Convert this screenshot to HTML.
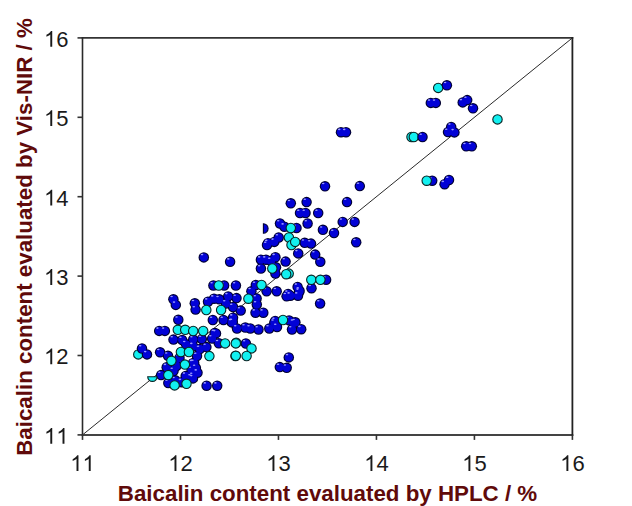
<!DOCTYPE html>
<html><head><meta charset="utf-8"><style>
html,body{margin:0;padding:0;background:#fff;width:632px;height:506px;overflow:hidden}
svg{display:block}
text{font-family:"Liberation Sans",sans-serif}
</style></head><body>
<svg width="632" height="506" viewBox="0 0 632 506">
<rect width="632" height="506" fill="#fff"/>
<line x1="82.5" y1="434.9" x2="572.4" y2="37.9" stroke="#111" stroke-width="0.9"/>
<circle cx="438.2" cy="87.9" r="4.7" fill="#12f0f0" stroke="#082424" stroke-width="1.1"/>
<circle cx="411.5" cy="137" r="4.7" fill="#12f0f0" stroke="#082424" stroke-width="1.1"/>
<circle cx="413.8" cy="137" r="4.7" fill="#12f0f0" stroke="#082424" stroke-width="1.1"/>
<circle cx="138.3" cy="354.4" r="4.7" fill="#12f0f0" stroke="#082424" stroke-width="1.1"/>
<path d="M263.4,223.8 A4.7,4.7 0 0 1 263.4,233.2 Z" fill="#0202d6" stroke="#000032" stroke-width="1.1"/>
<g fill="#000032"><circle cx="446.9" cy="85.3" r="5.25"/><circle cx="430.8" cy="102.9" r="5.25"/><circle cx="435.8" cy="102.9" r="5.25"/><circle cx="462.7" cy="102.4" r="5.25"/><circle cx="467.2" cy="100.1" r="5.25"/><circle cx="473" cy="108.3" r="5.25"/><circle cx="451.2" cy="126.9" r="5.25"/><circle cx="448" cy="132.1" r="5.25"/><circle cx="454.4" cy="132.4" r="5.25"/><circle cx="422.5" cy="137" r="5.25"/><circle cx="466.2" cy="146.3" r="5.25"/><circle cx="471.8" cy="146.3" r="5.25"/><circle cx="432.2" cy="180.7" r="5.25"/><circle cx="444.6" cy="184.2" r="5.25"/><circle cx="449" cy="180" r="5.25"/><circle cx="341" cy="132.2" r="5.25"/><circle cx="346" cy="132.2" r="5.25"/><circle cx="325" cy="186.3" r="5.25"/><circle cx="359.8" cy="186.1" r="5.25"/><circle cx="306.6" cy="202.1" r="5.25"/><circle cx="347" cy="202.1" r="5.25"/><circle cx="300" cy="213" r="5.25"/><circle cx="305.5" cy="213" r="5.25"/><circle cx="318.2" cy="213" r="5.25"/><circle cx="307.6" cy="223.5" r="5.25"/><circle cx="342.7" cy="221.9" r="5.25"/><circle cx="354.6" cy="221.9" r="5.25"/><circle cx="322.9" cy="229.8" r="5.25"/><circle cx="334" cy="233" r="5.25"/><circle cx="356.2" cy="242.3" r="5.25"/><circle cx="304.7" cy="242.8" r="5.25"/><circle cx="311" cy="243.6" r="5.25"/><circle cx="290.8" cy="203.3" r="5.25"/><circle cx="280" cy="223.5" r="5.25"/><circle cx="284.4" cy="226.7" r="5.25"/><circle cx="296.5" cy="228" r="5.25"/><circle cx="278.7" cy="237.5" r="5.25"/><circle cx="268" cy="243.2" r="5.25"/><circle cx="267" cy="245" r="5.25"/><circle cx="274.3" cy="241.9" r="5.25"/><circle cx="298.2" cy="253.4" r="5.25"/><circle cx="315.2" cy="254.6" r="5.25"/><circle cx="320.3" cy="261.8" r="5.25"/><circle cx="260.9" cy="259.7" r="5.25"/><circle cx="266" cy="259.7" r="5.25"/><circle cx="271" cy="261" r="5.25"/><circle cx="275.4" cy="257.2" r="5.25"/><circle cx="285.6" cy="261.6" r="5.25"/><circle cx="260.9" cy="268.5" r="5.25"/><circle cx="276" cy="267.3" r="5.25"/><circle cx="275.4" cy="273.6" r="5.25"/><circle cx="326.1" cy="279.7" r="5.25"/><circle cx="311.5" cy="288.2" r="5.25"/><circle cx="255.8" cy="285" r="5.25"/><circle cx="251.4" cy="291.3" r="5.25"/><circle cx="266.6" cy="291.3" r="5.25"/><circle cx="276.7" cy="291.3" r="5.25"/><circle cx="297.6" cy="286.9" r="5.25"/><circle cx="299.5" cy="290.7" r="5.25"/><circle cx="288.1" cy="293.9" r="5.25"/><circle cx="286.6" cy="296.3" r="5.25"/><circle cx="290.4" cy="295.7" r="5.25"/><circle cx="298" cy="295.7" r="5.25"/><circle cx="299.2" cy="291.9" r="5.25"/><circle cx="320.1" cy="303.5" r="5.25"/><circle cx="203.8" cy="257.4" r="5.25"/><circle cx="230.1" cy="261.7" r="5.25"/><circle cx="213.4" cy="285.5" r="5.25"/><circle cx="224.1" cy="285.5" r="5.25"/><circle cx="235.9" cy="285.5" r="5.25"/><circle cx="173.4" cy="299.3" r="5.25"/><circle cx="175.8" cy="304.9" r="5.25"/><circle cx="194.8" cy="303.3" r="5.25"/><circle cx="195.6" cy="309.6" r="5.25"/><circle cx="228.2" cy="296.4" r="5.25"/><circle cx="236.5" cy="298.1" r="5.25"/><circle cx="256.6" cy="298.5" r="5.25"/><circle cx="256.8" cy="304.5" r="5.25"/><circle cx="208" cy="301.7" r="5.25"/><circle cx="214" cy="298.7" r="5.25"/><circle cx="219.3" cy="299.3" r="5.25"/><circle cx="226" cy="303.5" r="5.25"/><circle cx="233" cy="307" r="5.25"/><circle cx="240.7" cy="310.6" r="5.25"/><circle cx="255.5" cy="312.7" r="5.25"/><circle cx="263.3" cy="312.7" r="5.25"/><circle cx="178.3" cy="319.8" r="5.25"/><circle cx="212.8" cy="320" r="5.25"/><circle cx="223.5" cy="320" r="5.25"/><circle cx="233" cy="317.7" r="5.25"/><circle cx="231.8" cy="322.4" r="5.25"/><circle cx="232.8" cy="322" r="5.25"/><circle cx="274.3" cy="322.8" r="5.25"/><circle cx="293.7" cy="322.8" r="5.25"/><circle cx="275.2" cy="321" r="5.25"/><circle cx="289.1" cy="320.4" r="5.25"/><circle cx="295.4" cy="322.3" r="5.25"/><circle cx="237" cy="328.5" r="5.25"/><circle cx="245.3" cy="327.5" r="5.25"/><circle cx="250.3" cy="328.5" r="5.25"/><circle cx="258.5" cy="329.5" r="5.25"/><circle cx="269.3" cy="328.5" r="5.25"/><circle cx="277" cy="327" r="5.25"/><circle cx="292" cy="329.5" r="5.25"/><circle cx="301.2" cy="329.2" r="5.25"/><circle cx="245.9" cy="343.5" r="5.25"/><circle cx="288.8" cy="357.4" r="5.25"/><circle cx="279.8" cy="367.1" r="5.25"/><circle cx="286.7" cy="367.8" r="5.25"/><circle cx="214.6" cy="333.1" r="5.25"/><circle cx="159.2" cy="330.9" r="5.25"/><circle cx="164.9" cy="330.9" r="5.25"/><circle cx="173.5" cy="339.6" r="5.25"/><circle cx="182.2" cy="340" r="5.25"/><circle cx="186" cy="344.3" r="5.25"/><circle cx="193.2" cy="339.5" r="5.25"/><circle cx="201.8" cy="339.1" r="5.25"/><circle cx="193.1" cy="346.2" r="5.25"/><circle cx="199.8" cy="349" r="5.25"/><circle cx="206.4" cy="347.1" r="5.25"/><circle cx="212.1" cy="338.6" r="5.25"/><circle cx="216" cy="333.4" r="5.25"/><circle cx="218.8" cy="343.3" r="5.25"/><circle cx="194.2" cy="363" r="5.25"/><circle cx="193" cy="376" r="5.25"/><circle cx="142" cy="348.5" r="5.25"/><circle cx="147" cy="354.4" r="5.25"/><circle cx="160.1" cy="352.3" r="5.25"/><circle cx="168" cy="355.8" r="5.25"/><circle cx="197" cy="356" r="5.25"/><circle cx="175.4" cy="364.8" r="5.25"/><circle cx="179.5" cy="358" r="5.25"/><circle cx="192.8" cy="363.2" r="5.25"/><circle cx="195.9" cy="368" r="5.25"/><circle cx="166.7" cy="367.2" r="5.25"/><circle cx="161.1" cy="375.1" r="5.25"/><circle cx="168.3" cy="383" r="5.25"/><circle cx="191.2" cy="377.5" r="5.25"/><circle cx="197.5" cy="372.7" r="5.25"/><circle cx="185.7" cy="375.9" r="5.25"/><circle cx="181.7" cy="382.2" r="5.25"/><circle cx="175.3" cy="380.3" r="5.25"/><circle cx="193" cy="378.4" r="5.25"/><circle cx="176.5" cy="366" r="5.25"/><circle cx="173.5" cy="371" r="5.25"/><circle cx="191.5" cy="370" r="5.25"/><circle cx="206.6" cy="385.7" r="5.25"/><circle cx="217.2" cy="385.7" r="5.25"/></g>
<g fill="#0202d6"><circle cx="446.9" cy="85.3" r="4.15"/><circle cx="430.8" cy="102.9" r="4.15"/><circle cx="435.8" cy="102.9" r="4.15"/><circle cx="462.7" cy="102.4" r="4.15"/><circle cx="467.2" cy="100.1" r="4.15"/><circle cx="473" cy="108.3" r="4.15"/><circle cx="451.2" cy="126.9" r="4.15"/><circle cx="448" cy="132.1" r="4.15"/><circle cx="454.4" cy="132.4" r="4.15"/><circle cx="422.5" cy="137" r="4.15"/><circle cx="466.2" cy="146.3" r="4.15"/><circle cx="471.8" cy="146.3" r="4.15"/><circle cx="432.2" cy="180.7" r="4.15"/><circle cx="444.6" cy="184.2" r="4.15"/><circle cx="449" cy="180" r="4.15"/><circle cx="341" cy="132.2" r="4.15"/><circle cx="346" cy="132.2" r="4.15"/><circle cx="325" cy="186.3" r="4.15"/><circle cx="359.8" cy="186.1" r="4.15"/><circle cx="306.6" cy="202.1" r="4.15"/><circle cx="347" cy="202.1" r="4.15"/><circle cx="300" cy="213" r="4.15"/><circle cx="305.5" cy="213" r="4.15"/><circle cx="318.2" cy="213" r="4.15"/><circle cx="307.6" cy="223.5" r="4.15"/><circle cx="342.7" cy="221.9" r="4.15"/><circle cx="354.6" cy="221.9" r="4.15"/><circle cx="322.9" cy="229.8" r="4.15"/><circle cx="334" cy="233" r="4.15"/><circle cx="356.2" cy="242.3" r="4.15"/><circle cx="304.7" cy="242.8" r="4.15"/><circle cx="311" cy="243.6" r="4.15"/><circle cx="290.8" cy="203.3" r="4.15"/><circle cx="280" cy="223.5" r="4.15"/><circle cx="284.4" cy="226.7" r="4.15"/><circle cx="296.5" cy="228" r="4.15"/><circle cx="278.7" cy="237.5" r="4.15"/><circle cx="268" cy="243.2" r="4.15"/><circle cx="267" cy="245" r="4.15"/><circle cx="274.3" cy="241.9" r="4.15"/><circle cx="298.2" cy="253.4" r="4.15"/><circle cx="315.2" cy="254.6" r="4.15"/><circle cx="320.3" cy="261.8" r="4.15"/><circle cx="260.9" cy="259.7" r="4.15"/><circle cx="266" cy="259.7" r="4.15"/><circle cx="271" cy="261" r="4.15"/><circle cx="275.4" cy="257.2" r="4.15"/><circle cx="285.6" cy="261.6" r="4.15"/><circle cx="260.9" cy="268.5" r="4.15"/><circle cx="276" cy="267.3" r="4.15"/><circle cx="275.4" cy="273.6" r="4.15"/><circle cx="326.1" cy="279.7" r="4.15"/><circle cx="311.5" cy="288.2" r="4.15"/><circle cx="255.8" cy="285" r="4.15"/><circle cx="251.4" cy="291.3" r="4.15"/><circle cx="266.6" cy="291.3" r="4.15"/><circle cx="276.7" cy="291.3" r="4.15"/><circle cx="297.6" cy="286.9" r="4.15"/><circle cx="299.5" cy="290.7" r="4.15"/><circle cx="288.1" cy="293.9" r="4.15"/><circle cx="286.6" cy="296.3" r="4.15"/><circle cx="290.4" cy="295.7" r="4.15"/><circle cx="298" cy="295.7" r="4.15"/><circle cx="299.2" cy="291.9" r="4.15"/><circle cx="320.1" cy="303.5" r="4.15"/><circle cx="203.8" cy="257.4" r="4.15"/><circle cx="230.1" cy="261.7" r="4.15"/><circle cx="213.4" cy="285.5" r="4.15"/><circle cx="224.1" cy="285.5" r="4.15"/><circle cx="235.9" cy="285.5" r="4.15"/><circle cx="173.4" cy="299.3" r="4.15"/><circle cx="175.8" cy="304.9" r="4.15"/><circle cx="194.8" cy="303.3" r="4.15"/><circle cx="195.6" cy="309.6" r="4.15"/><circle cx="228.2" cy="296.4" r="4.15"/><circle cx="236.5" cy="298.1" r="4.15"/><circle cx="256.6" cy="298.5" r="4.15"/><circle cx="256.8" cy="304.5" r="4.15"/><circle cx="208" cy="301.7" r="4.15"/><circle cx="214" cy="298.7" r="4.15"/><circle cx="219.3" cy="299.3" r="4.15"/><circle cx="226" cy="303.5" r="4.15"/><circle cx="233" cy="307" r="4.15"/><circle cx="240.7" cy="310.6" r="4.15"/><circle cx="255.5" cy="312.7" r="4.15"/><circle cx="263.3" cy="312.7" r="4.15"/><circle cx="178.3" cy="319.8" r="4.15"/><circle cx="212.8" cy="320" r="4.15"/><circle cx="223.5" cy="320" r="4.15"/><circle cx="233" cy="317.7" r="4.15"/><circle cx="231.8" cy="322.4" r="4.15"/><circle cx="232.8" cy="322" r="4.15"/><circle cx="274.3" cy="322.8" r="4.15"/><circle cx="293.7" cy="322.8" r="4.15"/><circle cx="275.2" cy="321" r="4.15"/><circle cx="289.1" cy="320.4" r="4.15"/><circle cx="295.4" cy="322.3" r="4.15"/><circle cx="237" cy="328.5" r="4.15"/><circle cx="245.3" cy="327.5" r="4.15"/><circle cx="250.3" cy="328.5" r="4.15"/><circle cx="258.5" cy="329.5" r="4.15"/><circle cx="269.3" cy="328.5" r="4.15"/><circle cx="277" cy="327" r="4.15"/><circle cx="292" cy="329.5" r="4.15"/><circle cx="301.2" cy="329.2" r="4.15"/><circle cx="245.9" cy="343.5" r="4.15"/><circle cx="288.8" cy="357.4" r="4.15"/><circle cx="279.8" cy="367.1" r="4.15"/><circle cx="286.7" cy="367.8" r="4.15"/><circle cx="214.6" cy="333.1" r="4.15"/><circle cx="159.2" cy="330.9" r="4.15"/><circle cx="164.9" cy="330.9" r="4.15"/><circle cx="173.5" cy="339.6" r="4.15"/><circle cx="182.2" cy="340" r="4.15"/><circle cx="186" cy="344.3" r="4.15"/><circle cx="193.2" cy="339.5" r="4.15"/><circle cx="201.8" cy="339.1" r="4.15"/><circle cx="193.1" cy="346.2" r="4.15"/><circle cx="199.8" cy="349" r="4.15"/><circle cx="206.4" cy="347.1" r="4.15"/><circle cx="212.1" cy="338.6" r="4.15"/><circle cx="216" cy="333.4" r="4.15"/><circle cx="218.8" cy="343.3" r="4.15"/><circle cx="194.2" cy="363" r="4.15"/><circle cx="193" cy="376" r="4.15"/><circle cx="142" cy="348.5" r="4.15"/><circle cx="147" cy="354.4" r="4.15"/><circle cx="160.1" cy="352.3" r="4.15"/><circle cx="168" cy="355.8" r="4.15"/><circle cx="197" cy="356" r="4.15"/><circle cx="175.4" cy="364.8" r="4.15"/><circle cx="179.5" cy="358" r="4.15"/><circle cx="192.8" cy="363.2" r="4.15"/><circle cx="195.9" cy="368" r="4.15"/><circle cx="166.7" cy="367.2" r="4.15"/><circle cx="161.1" cy="375.1" r="4.15"/><circle cx="168.3" cy="383" r="4.15"/><circle cx="191.2" cy="377.5" r="4.15"/><circle cx="197.5" cy="372.7" r="4.15"/><circle cx="185.7" cy="375.9" r="4.15"/><circle cx="181.7" cy="382.2" r="4.15"/><circle cx="175.3" cy="380.3" r="4.15"/><circle cx="193" cy="378.4" r="4.15"/><circle cx="176.5" cy="366" r="4.15"/><circle cx="173.5" cy="371" r="4.15"/><circle cx="191.5" cy="370" r="4.15"/><circle cx="206.6" cy="385.7" r="4.15"/><circle cx="217.2" cy="385.7" r="4.15"/></g>
<g fill="#9a9aff"><ellipse cx="445.1" cy="82.5" rx="1.3" ry="0.8"/><ellipse cx="429.0" cy="100.1" rx="1.3" ry="0.8"/><ellipse cx="434.0" cy="100.1" rx="1.3" ry="0.8"/><ellipse cx="460.9" cy="99.6" rx="1.3" ry="0.8"/><ellipse cx="465.4" cy="97.3" rx="1.3" ry="0.8"/><ellipse cx="471.2" cy="105.5" rx="1.3" ry="0.8"/><ellipse cx="449.4" cy="124.1" rx="1.3" ry="0.8"/><ellipse cx="446.2" cy="129.3" rx="1.3" ry="0.8"/><ellipse cx="452.6" cy="129.6" rx="1.3" ry="0.8"/><ellipse cx="420.7" cy="134.2" rx="1.3" ry="0.8"/><ellipse cx="464.4" cy="143.5" rx="1.3" ry="0.8"/><ellipse cx="470.0" cy="143.5" rx="1.3" ry="0.8"/><ellipse cx="430.4" cy="177.9" rx="1.3" ry="0.8"/><ellipse cx="442.8" cy="181.4" rx="1.3" ry="0.8"/><ellipse cx="447.2" cy="177.2" rx="1.3" ry="0.8"/><ellipse cx="339.2" cy="129.4" rx="1.3" ry="0.8"/><ellipse cx="344.2" cy="129.4" rx="1.3" ry="0.8"/><ellipse cx="323.2" cy="183.5" rx="1.3" ry="0.8"/><ellipse cx="358.0" cy="183.3" rx="1.3" ry="0.8"/><ellipse cx="304.8" cy="199.3" rx="1.3" ry="0.8"/><ellipse cx="345.2" cy="199.3" rx="1.3" ry="0.8"/><ellipse cx="298.2" cy="210.2" rx="1.3" ry="0.8"/><ellipse cx="303.7" cy="210.2" rx="1.3" ry="0.8"/><ellipse cx="316.4" cy="210.2" rx="1.3" ry="0.8"/><ellipse cx="305.8" cy="220.7" rx="1.3" ry="0.8"/><ellipse cx="340.9" cy="219.1" rx="1.3" ry="0.8"/><ellipse cx="352.8" cy="219.1" rx="1.3" ry="0.8"/><ellipse cx="321.1" cy="227.0" rx="1.3" ry="0.8"/><ellipse cx="332.2" cy="230.2" rx="1.3" ry="0.8"/><ellipse cx="354.4" cy="239.5" rx="1.3" ry="0.8"/><ellipse cx="302.9" cy="240.0" rx="1.3" ry="0.8"/><ellipse cx="309.2" cy="240.8" rx="1.3" ry="0.8"/><ellipse cx="289.0" cy="200.5" rx="1.3" ry="0.8"/><ellipse cx="278.2" cy="220.7" rx="1.3" ry="0.8"/><ellipse cx="282.6" cy="223.9" rx="1.3" ry="0.8"/><ellipse cx="294.7" cy="225.2" rx="1.3" ry="0.8"/><ellipse cx="276.9" cy="234.7" rx="1.3" ry="0.8"/><ellipse cx="266.2" cy="240.4" rx="1.3" ry="0.8"/><ellipse cx="265.2" cy="242.2" rx="1.3" ry="0.8"/><ellipse cx="272.5" cy="239.1" rx="1.3" ry="0.8"/><ellipse cx="296.4" cy="250.6" rx="1.3" ry="0.8"/><ellipse cx="313.4" cy="251.8" rx="1.3" ry="0.8"/><ellipse cx="318.5" cy="259.0" rx="1.3" ry="0.8"/><ellipse cx="259.1" cy="256.9" rx="1.3" ry="0.8"/><ellipse cx="264.2" cy="256.9" rx="1.3" ry="0.8"/><ellipse cx="269.2" cy="258.2" rx="1.3" ry="0.8"/><ellipse cx="273.6" cy="254.4" rx="1.3" ry="0.8"/><ellipse cx="283.8" cy="258.8" rx="1.3" ry="0.8"/><ellipse cx="259.1" cy="265.7" rx="1.3" ry="0.8"/><ellipse cx="274.2" cy="264.5" rx="1.3" ry="0.8"/><ellipse cx="273.6" cy="270.8" rx="1.3" ry="0.8"/><ellipse cx="324.3" cy="276.9" rx="1.3" ry="0.8"/><ellipse cx="309.7" cy="285.4" rx="1.3" ry="0.8"/><ellipse cx="254.0" cy="282.2" rx="1.3" ry="0.8"/><ellipse cx="249.6" cy="288.5" rx="1.3" ry="0.8"/><ellipse cx="264.8" cy="288.5" rx="1.3" ry="0.8"/><ellipse cx="274.9" cy="288.5" rx="1.3" ry="0.8"/><ellipse cx="295.8" cy="284.1" rx="1.3" ry="0.8"/><ellipse cx="297.7" cy="287.9" rx="1.3" ry="0.8"/><ellipse cx="286.3" cy="291.1" rx="1.3" ry="0.8"/><ellipse cx="284.8" cy="293.5" rx="1.3" ry="0.8"/><ellipse cx="288.6" cy="292.9" rx="1.3" ry="0.8"/><ellipse cx="296.2" cy="292.9" rx="1.3" ry="0.8"/><ellipse cx="297.4" cy="289.1" rx="1.3" ry="0.8"/><ellipse cx="318.3" cy="300.7" rx="1.3" ry="0.8"/><ellipse cx="202.0" cy="254.6" rx="1.3" ry="0.8"/><ellipse cx="228.3" cy="258.9" rx="1.3" ry="0.8"/><ellipse cx="211.6" cy="282.7" rx="1.3" ry="0.8"/><ellipse cx="222.3" cy="282.7" rx="1.3" ry="0.8"/><ellipse cx="234.1" cy="282.7" rx="1.3" ry="0.8"/><ellipse cx="171.6" cy="296.5" rx="1.3" ry="0.8"/><ellipse cx="174.0" cy="302.1" rx="1.3" ry="0.8"/><ellipse cx="193.0" cy="300.5" rx="1.3" ry="0.8"/><ellipse cx="193.8" cy="306.8" rx="1.3" ry="0.8"/><ellipse cx="226.4" cy="293.6" rx="1.3" ry="0.8"/><ellipse cx="234.7" cy="295.3" rx="1.3" ry="0.8"/><ellipse cx="254.8" cy="295.7" rx="1.3" ry="0.8"/><ellipse cx="255.0" cy="301.7" rx="1.3" ry="0.8"/><ellipse cx="206.2" cy="298.9" rx="1.3" ry="0.8"/><ellipse cx="212.2" cy="295.9" rx="1.3" ry="0.8"/><ellipse cx="217.5" cy="296.5" rx="1.3" ry="0.8"/><ellipse cx="224.2" cy="300.7" rx="1.3" ry="0.8"/><ellipse cx="231.2" cy="304.2" rx="1.3" ry="0.8"/><ellipse cx="238.9" cy="307.8" rx="1.3" ry="0.8"/><ellipse cx="253.7" cy="309.9" rx="1.3" ry="0.8"/><ellipse cx="261.5" cy="309.9" rx="1.3" ry="0.8"/><ellipse cx="176.5" cy="317.0" rx="1.3" ry="0.8"/><ellipse cx="211.0" cy="317.2" rx="1.3" ry="0.8"/><ellipse cx="221.7" cy="317.2" rx="1.3" ry="0.8"/><ellipse cx="231.2" cy="314.9" rx="1.3" ry="0.8"/><ellipse cx="230.0" cy="319.6" rx="1.3" ry="0.8"/><ellipse cx="231.0" cy="319.2" rx="1.3" ry="0.8"/><ellipse cx="272.5" cy="320.0" rx="1.3" ry="0.8"/><ellipse cx="291.9" cy="320.0" rx="1.3" ry="0.8"/><ellipse cx="273.4" cy="318.2" rx="1.3" ry="0.8"/><ellipse cx="287.3" cy="317.6" rx="1.3" ry="0.8"/><ellipse cx="293.6" cy="319.5" rx="1.3" ry="0.8"/><ellipse cx="235.2" cy="325.7" rx="1.3" ry="0.8"/><ellipse cx="243.5" cy="324.7" rx="1.3" ry="0.8"/><ellipse cx="248.5" cy="325.7" rx="1.3" ry="0.8"/><ellipse cx="256.7" cy="326.7" rx="1.3" ry="0.8"/><ellipse cx="267.5" cy="325.7" rx="1.3" ry="0.8"/><ellipse cx="275.2" cy="324.2" rx="1.3" ry="0.8"/><ellipse cx="290.2" cy="326.7" rx="1.3" ry="0.8"/><ellipse cx="299.4" cy="326.4" rx="1.3" ry="0.8"/><ellipse cx="244.1" cy="340.7" rx="1.3" ry="0.8"/><ellipse cx="287.0" cy="354.6" rx="1.3" ry="0.8"/><ellipse cx="278.0" cy="364.3" rx="1.3" ry="0.8"/><ellipse cx="284.9" cy="365.0" rx="1.3" ry="0.8"/><ellipse cx="212.8" cy="330.3" rx="1.3" ry="0.8"/><ellipse cx="157.4" cy="328.1" rx="1.3" ry="0.8"/><ellipse cx="163.1" cy="328.1" rx="1.3" ry="0.8"/><ellipse cx="171.7" cy="336.8" rx="1.3" ry="0.8"/><ellipse cx="180.4" cy="337.2" rx="1.3" ry="0.8"/><ellipse cx="184.2" cy="341.5" rx="1.3" ry="0.8"/><ellipse cx="191.4" cy="336.7" rx="1.3" ry="0.8"/><ellipse cx="200.0" cy="336.3" rx="1.3" ry="0.8"/><ellipse cx="191.3" cy="343.4" rx="1.3" ry="0.8"/><ellipse cx="198.0" cy="346.2" rx="1.3" ry="0.8"/><ellipse cx="204.6" cy="344.3" rx="1.3" ry="0.8"/><ellipse cx="210.3" cy="335.8" rx="1.3" ry="0.8"/><ellipse cx="214.2" cy="330.6" rx="1.3" ry="0.8"/><ellipse cx="217.0" cy="340.5" rx="1.3" ry="0.8"/><ellipse cx="192.4" cy="360.2" rx="1.3" ry="0.8"/><ellipse cx="191.2" cy="373.2" rx="1.3" ry="0.8"/><ellipse cx="140.2" cy="345.7" rx="1.3" ry="0.8"/><ellipse cx="145.2" cy="351.6" rx="1.3" ry="0.8"/><ellipse cx="158.3" cy="349.5" rx="1.3" ry="0.8"/><ellipse cx="166.2" cy="353.0" rx="1.3" ry="0.8"/><ellipse cx="195.2" cy="353.2" rx="1.3" ry="0.8"/><ellipse cx="173.6" cy="362.0" rx="1.3" ry="0.8"/><ellipse cx="177.7" cy="355.2" rx="1.3" ry="0.8"/><ellipse cx="191.0" cy="360.4" rx="1.3" ry="0.8"/><ellipse cx="194.1" cy="365.2" rx="1.3" ry="0.8"/><ellipse cx="164.9" cy="364.4" rx="1.3" ry="0.8"/><ellipse cx="159.3" cy="372.3" rx="1.3" ry="0.8"/><ellipse cx="166.5" cy="380.2" rx="1.3" ry="0.8"/><ellipse cx="189.4" cy="374.7" rx="1.3" ry="0.8"/><ellipse cx="195.7" cy="369.9" rx="1.3" ry="0.8"/><ellipse cx="183.9" cy="373.1" rx="1.3" ry="0.8"/><ellipse cx="179.9" cy="379.4" rx="1.3" ry="0.8"/><ellipse cx="173.5" cy="377.5" rx="1.3" ry="0.8"/><ellipse cx="191.2" cy="375.6" rx="1.3" ry="0.8"/><ellipse cx="174.7" cy="363.2" rx="1.3" ry="0.8"/><ellipse cx="171.7" cy="368.2" rx="1.3" ry="0.8"/><ellipse cx="189.7" cy="367.2" rx="1.3" ry="0.8"/><ellipse cx="204.8" cy="382.9" rx="1.3" ry="0.8"/><ellipse cx="215.4" cy="382.9" rx="1.3" ry="0.8"/></g>
<circle cx="497.5" cy="119.4" r="4.7" fill="#12f0f0" stroke="#082424" stroke-width="1.1"/>
<circle cx="426.7" cy="180.7" r="4.7" fill="#12f0f0" stroke="#082424" stroke-width="1.1"/>
<circle cx="290.8" cy="228" r="4.7" fill="#12f0f0" stroke="#082424" stroke-width="1.1"/>
<circle cx="288.9" cy="237.5" r="4.7" fill="#12f0f0" stroke="#082424" stroke-width="1.1"/>
<circle cx="291.5" cy="245" r="4.7" fill="#12f0f0" stroke="#082424" stroke-width="1.1"/>
<circle cx="295.2" cy="241.9" r="4.7" fill="#12f0f0" stroke="#082424" stroke-width="1.1"/>
<circle cx="272.3" cy="268.5" r="4.7" fill="#12f0f0" stroke="#082424" stroke-width="1.1"/>
<circle cx="288.7" cy="273.6" r="4.7" fill="#12f0f0" stroke="#082424" stroke-width="1.1"/>
<circle cx="286.2" cy="274.2" r="4.7" fill="#12f0f0" stroke="#082424" stroke-width="1.1"/>
<circle cx="311.3" cy="279.8" r="4.7" fill="#12f0f0" stroke="#082424" stroke-width="1.1"/>
<circle cx="320.4" cy="279.8" r="4.7" fill="#12f0f0" stroke="#082424" stroke-width="1.1"/>
<circle cx="261.5" cy="285" r="4.7" fill="#12f0f0" stroke="#082424" stroke-width="1.1"/>
<circle cx="218.7" cy="285.5" r="4.7" fill="#12f0f0" stroke="#082424" stroke-width="1.1"/>
<circle cx="248.4" cy="298.7" r="4.7" fill="#12f0f0" stroke="#082424" stroke-width="1.1"/>
<circle cx="206.3" cy="310" r="4.7" fill="#12f0f0" stroke="#082424" stroke-width="1.1"/>
<circle cx="221.1" cy="310" r="4.7" fill="#12f0f0" stroke="#082424" stroke-width="1.1"/>
<circle cx="283" cy="320" r="4.7" fill="#12f0f0" stroke="#082424" stroke-width="1.1"/>
<circle cx="236.2" cy="342.8" r="4.7" fill="#12f0f0" stroke="#082424" stroke-width="1.1"/>
<circle cx="251.5" cy="348.4" r="4.7" fill="#12f0f0" stroke="#082424" stroke-width="1.1"/>
<circle cx="235.5" cy="356" r="4.7" fill="#12f0f0" stroke="#082424" stroke-width="1.1"/>
<circle cx="246.6" cy="356" r="4.7" fill="#12f0f0" stroke="#082424" stroke-width="1.1"/>
<circle cx="203.2" cy="331" r="4.7" fill="#12f0f0" stroke="#082424" stroke-width="1.1"/>
<circle cx="177.8" cy="329.8" r="4.7" fill="#12f0f0" stroke="#082424" stroke-width="1.1"/>
<circle cx="185.2" cy="329.8" r="4.7" fill="#12f0f0" stroke="#082424" stroke-width="1.1"/>
<circle cx="193.2" cy="331" r="4.7" fill="#12f0f0" stroke="#082424" stroke-width="1.1"/>
<circle cx="225.1" cy="343.4" r="4.7" fill="#12f0f0" stroke="#082424" stroke-width="1.1"/>
<circle cx="235.8" cy="343.4" r="4.7" fill="#12f0f0" stroke="#082424" stroke-width="1.1"/>
<circle cx="235.8" cy="355.8" r="4.7" fill="#12f0f0" stroke="#082424" stroke-width="1.1"/>
<circle cx="180.9" cy="352" r="4.7" fill="#12f0f0" stroke="#082424" stroke-width="1.1"/>
<circle cx="188.9" cy="352" r="4.7" fill="#12f0f0" stroke="#082424" stroke-width="1.1"/>
<circle cx="209.4" cy="356.1" r="4.7" fill="#12f0f0" stroke="#082424" stroke-width="1.1"/>
<circle cx="171.4" cy="360.8" r="4.7" fill="#12f0f0" stroke="#082424" stroke-width="1.1"/>
<circle cx="184.9" cy="364.6" r="4.7" fill="#12f0f0" stroke="#082424" stroke-width="1.1"/>
<path d="M147.70000000000002,376.7 A4.7,4.7 0 0 0 157.1,376.7 Z" fill="#12f0f0" stroke="#082424" stroke-width="1.1"/>
<circle cx="168.3" cy="375.1" r="4.7" fill="#12f0f0" stroke="#082424" stroke-width="1.1"/>
<circle cx="174.6" cy="385.4" r="4.7" fill="#12f0f0" stroke="#082424" stroke-width="1.1"/>
<circle cx="186.5" cy="383.8" r="4.7" fill="#12f0f0" stroke="#082424" stroke-width="1.1"/>
<line x1="81.7" y1="37.9" x2="573.3" y2="37.9" stroke="#333" stroke-width="1.9"/>
<line x1="81.7" y1="434.9" x2="573.3" y2="434.9" stroke="#444" stroke-width="2"/>
<line x1="82.5" y1="37.0" x2="82.5" y2="435.79999999999995" stroke="#2a2a2a" stroke-width="1.6"/>
<line x1="572.4" y1="37.0" x2="572.4" y2="435.79999999999995" stroke="#222" stroke-width="1.8"/>
<line x1="77.5" y1="434.9" x2="82.5" y2="434.9" stroke="#333" stroke-width="1.6"/>
<line x1="82.5" y1="434.9" x2="82.5" y2="439.9" stroke="#333" stroke-width="1.6"/>
<line x1="77.5" y1="355.5" x2="82.5" y2="355.5" stroke="#333" stroke-width="1.6"/>
<line x1="180.48" y1="434.9" x2="180.48" y2="439.9" stroke="#333" stroke-width="1.6"/>
<line x1="77.5" y1="276.09999999999997" x2="82.5" y2="276.09999999999997" stroke="#333" stroke-width="1.6"/>
<line x1="278.46" y1="434.9" x2="278.46" y2="439.9" stroke="#333" stroke-width="1.6"/>
<line x1="77.5" y1="196.7" x2="82.5" y2="196.7" stroke="#333" stroke-width="1.6"/>
<line x1="376.43999999999994" y1="434.9" x2="376.43999999999994" y2="439.9" stroke="#333" stroke-width="1.6"/>
<line x1="77.5" y1="117.29999999999995" x2="82.5" y2="117.29999999999995" stroke="#333" stroke-width="1.6"/>
<line x1="474.41999999999996" y1="434.9" x2="474.41999999999996" y2="439.9" stroke="#333" stroke-width="1.6"/>
<line x1="77.5" y1="37.89999999999998" x2="82.5" y2="37.89999999999998" stroke="#333" stroke-width="1.6"/>
<line x1="572.4" y1="434.9" x2="572.4" y2="439.9" stroke="#333" stroke-width="1.6"/>
<g font-size="22" fill="#1a1a1a">
<path transform="translate(44.03,443.7) scale(0.01074,-0.01074)" d="M763 0L583 0L583 1147Q518 1085 413 1023Q308 961 224 930L224 1104Q375 1175 488 1276Q601 1377 648 1472L763 1472Z"/><path transform="translate(56.26,443.7) scale(0.01074,-0.01074)" d="M763 0L583 0L583 1147Q518 1085 413 1023Q308 961 224 930L224 1104Q375 1175 488 1276Q601 1377 648 1472L763 1472Z"/>
<path transform="translate(70.26,471) scale(0.01074,-0.01074)" d="M763 0L583 0L583 1147Q518 1085 413 1023Q308 961 224 930L224 1104Q375 1175 488 1276Q601 1377 648 1472L763 1472Z"/><path transform="translate(82.50,471) scale(0.01074,-0.01074)" d="M763 0L583 0L583 1147Q518 1085 413 1023Q308 961 224 930L224 1104Q375 1175 488 1276Q601 1377 648 1472L763 1472Z"/>
<path transform="translate(44.03,364.3) scale(0.01074,-0.01074)" d="M763 0L583 0L583 1147Q518 1085 413 1023Q308 961 224 930L224 1104Q375 1175 488 1276Q601 1377 648 1472L763 1472Z"/><text x="56.26" y="364.3">2</text>
<path transform="translate(168.24,471) scale(0.01074,-0.01074)" d="M763 0L583 0L583 1147Q518 1085 413 1023Q308 961 224 930L224 1104Q375 1175 488 1276Q601 1377 648 1472L763 1472Z"/><text x="180.48" y="471">2</text>
<path transform="translate(44.03,284.9) scale(0.01074,-0.01074)" d="M763 0L583 0L583 1147Q518 1085 413 1023Q308 961 224 930L224 1104Q375 1175 488 1276Q601 1377 648 1472L763 1472Z"/><text x="56.26" y="284.9">3</text>
<path transform="translate(266.22,471) scale(0.01074,-0.01074)" d="M763 0L583 0L583 1147Q518 1085 413 1023Q308 961 224 930L224 1104Q375 1175 488 1276Q601 1377 648 1472L763 1472Z"/><text x="278.46" y="471">3</text>
<path transform="translate(44.03,205.5) scale(0.01074,-0.01074)" d="M763 0L583 0L583 1147Q518 1085 413 1023Q308 961 224 930L224 1104Q375 1175 488 1276Q601 1377 648 1472L763 1472Z"/><text x="56.26" y="205.5">4</text>
<path transform="translate(364.20,471) scale(0.01074,-0.01074)" d="M763 0L583 0L583 1147Q518 1085 413 1023Q308 961 224 930L224 1104Q375 1175 488 1276Q601 1377 648 1472L763 1472Z"/><text x="376.44" y="471">4</text>
<path transform="translate(44.03,126.1) scale(0.01074,-0.01074)" d="M763 0L583 0L583 1147Q518 1085 413 1023Q308 961 224 930L224 1104Q375 1175 488 1276Q601 1377 648 1472L763 1472Z"/><text x="56.26" y="126.1">5</text>
<path transform="translate(462.18,471) scale(0.01074,-0.01074)" d="M763 0L583 0L583 1147Q518 1085 413 1023Q308 961 224 930L224 1104Q375 1175 488 1276Q601 1377 648 1472L763 1472Z"/><text x="474.42" y="471">5</text>
<path transform="translate(44.03,46.7) scale(0.01074,-0.01074)" d="M763 0L583 0L583 1147Q518 1085 413 1023Q308 961 224 930L224 1104Q375 1175 488 1276Q601 1377 648 1472L763 1472Z"/><text x="56.26" y="46.7">6</text>
<path transform="translate(560.16,471) scale(0.01074,-0.01074)" d="M763 0L583 0L583 1147Q518 1085 413 1023Q308 961 224 930L224 1104Q375 1175 488 1276Q601 1377 648 1472L763 1472Z"/><text x="572.40" y="471">6</text>
</g>
<g font-size="22.33" font-weight="bold" fill="#600a0a">
<text x="327.5" y="500.5" text-anchor="middle">Baicalin content evaluated by HPLC / %</text>
<text transform="translate(32,237) rotate(-90)" x="0" y="0" text-anchor="middle">Baicalin content evaluated by Vis-NIR / %</text>
</g>
</svg>
</body></html>
